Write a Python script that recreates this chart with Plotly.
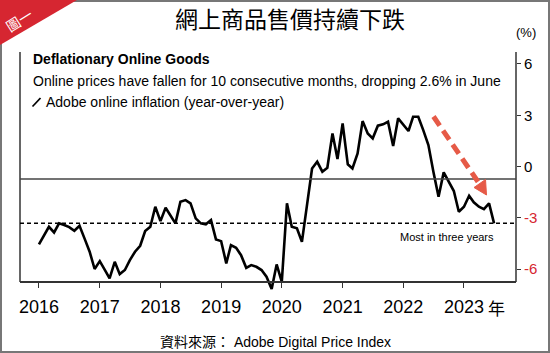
import pandas as pd
import plotly.graph_objects as go

# ---- data ----
start_month = "2016-01-01"
inflation = [-4.55, -4.02, -3.52, -3.85, -3.32, -3.42, -3.54, -3.75, -3.46, -4.20, -4.98, -5.99,
             -5.53, -6.05, -6.54, -5.57, -6.29, -6.05, -5.47, -4.98, -4.63, -3.77, -3.52, -2.35,
             -3.19, -2.41, -2.88, -3.32, -2.06, -1.96, -2.15, -3.03, -3.32, -3.38, -3.13, -4.26,
             -4.36, -5.66, -4.59, -4.75, -5.18, -5.92, -5.76, -5.86, -6.05, -6.44, -7.16, -5.72,
             -6.74, -2.15, -3.52, -3.61, -4.40, -2.25, -0.11, 0.28, -0.30, -0.07, 1.94, 0.44,
             2.52, 0.13, -0.11, 0.77, 2.66, 1.94, 1.65, 2.39, 2.47, 2.62, 1.20, 2.82,
             2.43, 2.08, 2.91, 2.91, 2.13, 1.26, -0.30, -1.77, -0.34, -0.89, -1.43, -2.64,
             -2.35, -1.71, -2.09, -2.35, -2.49, -2.15, -3.32]
months = pd.date_range(start_month, periods=len(inflation), freq="MS")
ref_solid = -0.73          # solid reference line
ref_dashed = -3.32         # "Most in three years" level
ytick_vals = [-6, -3, 0, 3, 6]
ytick_labels = ["-6", "-3", "0", "3", "6"]

title = "網上商品售價持續下跌"
sub1 = "Deflationary Online Goods"
sub2 = "Online prices have fallen for 10 consecutive months, dropping 2.6% in June"
sub3 = "Adobe online inflation (year-over-year)"
note = "Most in three years"
source = "資料來源： Adobe Digital Price Index"

W, H = 550, 353
AXIS_Y = 282           # pixel row of the bottom axis line
EXTRA = 9              # room below the axis line where the series may dip
L, R, T = 20, 34, 52
B = H - AXIS_Y - EXTRA
PW, PH = W - L - R, H - T - B
Y_TOP, Y_AXIS = 6.70, -6.75
Y_BOTTOM = Y_AXIS - (Y_TOP - Y_AXIS) * EXTRA / (AXIS_Y - T)


def px(x):
    return (x - L) / PW


def py(y):
    return (H - B - y) / PH


RED = "#d62631"
ARROW = "#e65a47"
FONT = "Liberation Sans, Arial, sans-serif"
CJK = "Noto Sans CJK TC, Liberation Sans, sans-serif"

fig = go.Figure()
fig.add_trace(go.Scatter(x=months, y=inflation, mode="lines",
                         line=dict(color="black", width=2.6),
                         hoverinfo="skip", showlegend=False))

ticktext = [f'<span style="color:{RED}">{t}</span>' if v < 0 else t
            for v, t in zip(ytick_vals, ytick_labels)]

fig.update_layout(
    width=W, height=H,
    margin=dict(l=L, r=R, t=T, b=B, pad=0),
    paper_bgcolor="white", plot_bgcolor="white",
    font=dict(family=FONT, color="black"),
    showlegend=False,
    xaxis=dict(type="date", range=["2015-09-09", "2023-11-10"],
               anchor="free", position=py(AXIS_Y),
               tick0="2016-01-01", dtick="M12", tickformat="%Y",
               showgrid=False, zeroline=False,
               showline=True, linecolor="#333", linewidth=1.5,
               ticks="outside", ticklen=5, tickcolor="#333", tickwidth=1,
               tickfont=dict(size=18, family=FONT, color="black"),
               ticklabelstandoff=4),
    yaxis=dict(side="right", range=[Y_BOTTOM, Y_TOP],
               tickvals=ytick_vals, ticktext=ticktext,
               showgrid=False, zeroline=False, showline=False,
               ticks="outside", ticklen=4, tickcolor="#333", tickwidth=1,
               tickfont=dict(size=15, family=FONT, color="black")),
)

shapes = []
# box sides (left and right), drawn from the axis line to the top
for xx in (0, 1):
    shapes.append(dict(type="line", xref="paper", yref="paper",
                       x0=xx, x1=xx, y0=py(AXIS_Y), y1=1,
                       line=dict(color="#333", width=1.5)))
# reference lines
shapes.append(dict(type="line", xref="paper", x0=0, x1=1, yref="y", y0=ref_solid, y1=ref_solid,
                   line=dict(color="#444", width=1.4)))
shapes.append(dict(type="line", xref="paper", x0=0, x1=1, yref="y", y0=ref_dashed, y1=ref_dashed,
                   line=dict(color="black", width=1.5, dash="4px,3px")))
# red dashed arrow
shapes.append(dict(type="line", xref="paper", yref="paper",
                   x0=px(433.5), y0=py(116.5), x1=px(479.5), y1=py(184),
                   line=dict(color=ARROW, width=5, dash="11px,6px")))
shapes.append(dict(type="path", xref="paper", yref="paper",
                   path=f"M {px(486.5)},{py(195)} L {px(474)},{py(187.5)} L {px(485.5)},{py(179.5)} Z",
                   fillcolor=ARROW, line=dict(color=ARROW, width=1)))
# legend slash
shapes.append(dict(type="line", xref="paper", yref="paper",
                   x0=px(32.5), y0=py(106.5), x1=px(40.5), y1=py(98),
                   line=dict(color="black", width=1.8)))
# outer frame
shapes.append(dict(type="rect", xref="paper", yref="paper",
                   x0=px(1), x1=px(549), y0=py(352), y1=py(1),
                   line=dict(color="#777", width=2)))
# red corner triangle
shapes.append(dict(type="path", xref="paper", yref="paper",
                   path=f"M {px(0)},{py(0)} L {px(77)},{py(0)} L {px(0)},{py(45)} Z",
                   fillcolor=RED, line=dict(width=0)))
fig.update_layout(shapes=shapes)

ann = []


def text(x, y, s, size, xanchor="left", family=FONT, color="black", angle=0):
    ann.append(dict(x=px(x), y=py(y), xref="paper", yref="paper", text=s,
                    showarrow=False, xanchor=xanchor, yanchor="middle",
                    textangle=angle,
                    font=dict(size=size, family=family, color=color)))


text(290, 18, title, 23, xanchor="center", family=CJK)
text(19, 20, "圖一", 14, xanchor="center", family=CJK, color="white", angle=-32)
text(526, 33, "(%)", 13, xanchor="center")
text(31, 59, f"<b>{sub1}</b>", 14)
text(31, 81, sub2, 14)
text(44, 102, sub3, 14)
text(447, 237, note, 11, xanchor="center")
text(496, 307, "年", 17, xanchor="center", family=CJK)
text(275, 342, source, 14, xanchor="center", family=FONT + ", Noto Sans CJK TC")
fig.update_layout(annotations=ann)

fig.write_html("out.html")
